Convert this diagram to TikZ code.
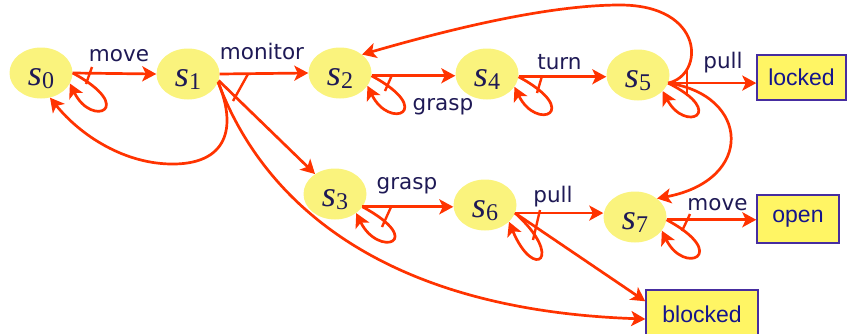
\documentclass[tikz,border=0pt]{standalone}
\usepackage{fontspec}
\usetikzlibrary{arrows.meta,calc,shapes.geometric}
\newfontfamily\mystfam{Liberation Serif}
\newfontfamily\mylabfam{DejaVu Sans}
\newfontfamily\myboxfam{Liberation Sans}
\newcommand\mylabfont{\mylabfam\fontsize{21.5}{24}\selectfont}
\newcommand\myboxfont{\myboxfam\fontsize{23}{26}\selectfont}
\newcommand\stlab[1]{{\mystfam\fontsize{36}{36}\selectfont\itshape s}{\mystfam\fontsize{24}{24}\selectfont\raisebox{-3pt}{#1}}}
\definecolor{redline}{RGB}{255,51,0}
\definecolor{stfill}{RGB}{250,243,125}
\definecolor{boxfill}{RGB}{255,245,100}
\definecolor{boxline}{RGB}{70,45,160}
\definecolor{boxtext}{RGB}{20,20,140}
\definecolor{labtext}{RGB}{30,25,85}
\tikzset{
  st/.style={ellipse, fill=stfill, minimum width=63pt, minimum height=51pt, inner sep=0pt,
    text height=26pt, text depth=2pt, text=labtext},
  endbox/.style={rectangle, draw=boxline, line width=1.4pt, fill=boxfill, font=\myboxfont,
    text=boxtext, inner sep=0pt},
  lab/.style={font=\mylabfont, text=labtext, inner sep=0pt},
  arr/.style={draw=redline, line width=2.7pt, -{Stealth[length=14pt,width=15pt,inset=3.5pt]}},
  andtick/.style={draw=redline, line width=2.4pt},
}
\begin{document}
\begin{tikzpicture}[x=1pt,y=-1pt]
\useasboundingbox (0,0) rectangle (847,333);
% states
\node[st] (s0) at (41,73) {\stlab{0}};
\node[st] (s1) at (188,74) {\stlab{1}};
\node[st] (s2) at (340,73) {\stlab{2}};
\node[st] (s4) at (487,74) {\stlab{4}};
\node[st] (s5) at (638,75) {\stlab{5}};
\node[st] (s3) at (335,194) {\stlab{3}};
\node[st] (s6) at (485,205) {\stlab{6}};
\node[st] (s7) at (635,217) {\stlab{7}};
% end boxes
\node[endbox, minimum width=89pt, minimum height=45pt] (locked) at (801.5,77.5) {locked};
\node[endbox, minimum width=82pt, minimum height=48pt] (open) at (798,219) {open};
\node[endbox, minimum width=112pt, minimum height=48pt] (blocked) at (702,314) {blocked};
% labels
\node[lab] (lmove0) at (119,55.5) {move};
\node[lab] (lmon) at (262,51.5) {monitor};
\node[lab] (lgrasp2) at (443,107) {grasp};
\node[lab] (lturn) at (559.5,62.5) {turn};
\node[lab] (lpull5) at (723,62.5) {pull};
\node[lab] (lgrasp3) at (407,185.5) {grasp};
\node[lab] (lpull6) at (553,197) {pull};
\node[lab] (lmove7) at (717.5,205) {move};
% s0: move
\draw[arr] (s0.east) -- (s1.west);
\draw[arr] (s0.east) .. controls +(65,35) and +(22,45) .. (s0.-20);
\draw[andtick] (92,67) -- (86,84);
% s1: monitor
\draw[arr] (s1.east) -- (s2.west);
\draw[arr] (s1.-12) -- (s3.135);
\draw[arr] (s1.-15) .. controls (262,200) and (380,310) .. ($(blocked.west)+(0,5)$);
\draw[arr] (s1.-15) .. controls (238,130) and (225,163) .. (175,164)
   .. controls (125,165) and (80,135) .. (s0.-70);
\draw[andtick] (248,74) -- (233,101);
% s2: grasp
\draw[arr] (s2.-5) -- (s2.-5 -| s4.west);
\draw[arr] (s2.-5) .. controls +(65,35) and +(22,45) .. (s2.-25);
\draw[andtick] (392,75) -- (385,91);
% s4: turn
\draw[arr] (s4.-5) -- (s4.-5 -| s5.west);
\draw[arr] (s4.-5) .. controls +(65,35) and +(22,45) .. (s4.-25);
\draw[andtick] (542,76) -- (537,93);
% s5: pull
\draw[arr] (s5.-15) -- (s5.-15 -| locked.west);
\draw[arr] (s5.-15) .. controls (705,75) and (705,5) .. (620,5)
   .. controls (540,5) and (430,35) .. (s2.40);
\draw[arr] (s5.-15) .. controls (750,95) and (755,180) .. (s7.40);
\draw[arr] (s5.-15) .. controls +(60,30) and +(22,42) .. (s5.-33);
\draw[andtick] (687,68) -- (687,96);
% s3: grasp
\draw[arr] (s3.-25) -- (s3.-25 -| s6.west);
\draw[arr] (s3.-25) .. controls +(65,35) and +(22,45) .. (s3.-42);
\draw[andtick] (391,207) -- (382,227);
% s6: pull
\draw[arr] (s6.-15) -- (s6.-15 -| s7.west);
\draw[arr] (s6.-15) -- ($(blocked.north west)+(0,12)$);
\draw[arr] (s6.-15) .. controls +(50,45) and +(25,60) .. (s6.-35);
\draw[andtick] (540,210) -- (533,240);
% s7: move
\draw[arr] (s7.-5) -- (s7.-5 -| open.west);
\draw[arr] (s7.-5) .. controls +(65,35) and +(22,45) .. (s7.-27);
\draw[andtick] (690,214) -- (682,231);
\end{tikzpicture}
\end{document}
